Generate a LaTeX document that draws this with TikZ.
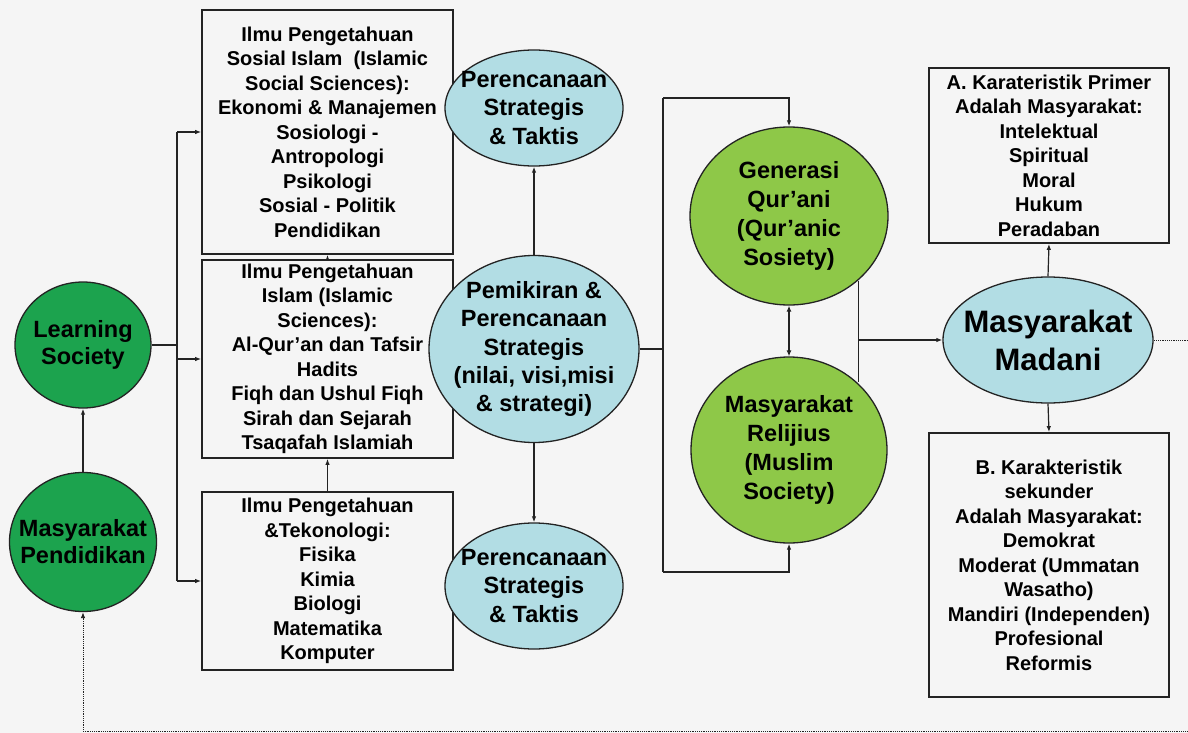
\documentclass[tikz,border=0pt]{standalone}
\usepackage{fontspec}
\setmainfont{Liberation Sans}
\usepackage{xcolor}
\usetikzlibrary{shapes.geometric,arrows.meta}
\definecolor{bggray}{RGB}{245,245,245}
\definecolor{darkgreen}{RGB}{28,163,78}
\definecolor{lightgreen}{RGB}{142,200,72}
\definecolor{lightblue}{RGB}{178,221,228}
\definecolor{linegray}{RGB}{35,35,35}

\begin{document}
\begin{tikzpicture}[x=1pt,y=-1pt,
  box/.style={draw=linegray, line width=1.7pt, minimum width=#1, inner sep=0pt},
  blob/.style={ellipse, draw=linegray, line width=1.3pt, inner sep=0pt},
  txt/.style={align=center, font=\fontsize{20}{24.5}\selectfont\bfseries},
  etxt/.style={align=center, font=\fontsize{23.5}{28.3}\selectfont\bfseries},
  arr/.style={-{Latex[length=6pt,width=4.5pt]}, line width=1.2pt, linegray},
  arr2/.style={{Latex[length=6pt,width=5pt]}-{Latex[length=6pt,width=5pt]}, line width=1.8pt, linegray},
  link/.style={line width=1.2pt, linegray}]

% Background
\useasboundingbox (0,0) rectangle (1188,733);
\fill[bggray] (0,0) rectangle (1188,733);

% Left circles
\node[blob, fill=darkgreen, minimum width=136, minimum height=126] (ls) at (83,345) {};
\node[etxt, font=\fontsize{23.5}{27}\selectfont\bfseries] (lst) at (ls) {Learning\\Society};
\node[blob, fill=darkgreen, minimum width=147, minimum height=139] (mp) at (83,542) {};
\node[etxt, font=\fontsize{23.5}{27}\selectfont\bfseries] (mpt) at (mp) {Masyarakat\\Pendidikan};

% Knowledge boxes
\node[box=251, minimum height=244, txt] (b1) at (327.5,132) {Ilmu Pengetahuan\\Sosial Islam\ \ (Islamic\\Social Sciences):\\Ekonomi \& Manajemen\\Sosiologi -\\Antropologi\\Psikologi\\Sosial - Politik\\Pendidikan};
\node[box=251, minimum height=198, txt] (b2) at (327.5,359) {Ilmu Pengetahuan\\Islam (Islamic\\Sciences):\\Al-Qur'an dan Tafsir\\Hadits\\Fiqh dan Ushul Fiqh\\Sirah dan Sejarah\\Tsaqafah Islamiah};
\node[box=251, minimum height=178, txt] (b3) at (327.5,581) {Ilmu Pengetahuan\\\&Tekonologi:\\Fisika\\Kimia\\Biologi\\Matematika\\Komputer};

% Planning ellipses
\node[blob, fill=lightblue, minimum width=178, minimum height=116] (ps1) at (534,108) {};
\node[etxt] (ps1t) at (ps1) {Perencanaan\\Strategis\\\& Taktis};
\node[blob, fill=lightblue, minimum width=210, minimum height=187] (pem) at (534,349) {};
\node[etxt] (pemt) at (pem) {Pemikiran \&\\Perencanaan\\Strategis\\(nilai, visi,misi\\\& strategi)};
\node[blob, fill=lightblue, minimum width=178, minimum height=126] (ps2) at (534,586) {};
\node[etxt] (ps2t) at (ps2) {Perencanaan\\Strategis\\\& Taktis};

% Society ellipses
\node[blob, fill=lightgreen, minimum width=198, minimum height=178] (gen) at (789,216) {};
\node[etxt, font=\fontsize{23.5}{29}\selectfont\bfseries] (gent) at (gen) {Generasi\\Qur'ani\\(Qur'anic\\Sosiety)};
\node[blob, fill=lightgreen, minimum width=196, minimum height=186] (mus) at (789,450) {};
\node[etxt, font=\fontsize{23.5}{29}\selectfont\bfseries] (must) at (mus) {Masyarakat\\Relijius\\(Muslim\\Society)};

% Madani and its characteristics
\node[blob, fill=lightblue, minimum width=210, minimum height=126] (mad) at (1048,340) {};
\node[etxt, font=\fontsize{31}{38}\selectfont\bfseries] (madt) at (mad) {Masyarakat\\Madani};
\node[box=240, minimum height=175, txt] (ka) at (1049,155.5) {A. Karateristik Primer\\Adalah Masyarakat:\\Intelektual\\Spiritual\\Moral\\Hukum\\Peradaban};
\node[box=240, minimum height=264, txt] (kb) at (1049,565) {B. Karakteristik\\sekunder\\Adalah Masyarakat:\\Demokrat\\Moderat (Ummatan\\Wasatho)\\Mandiri (Independen)\\Profesional\\Reformis};

% Bus coordinates
\coordinate (lbus) at (177,345);
\coordinate (rtop) at (663,98);
\coordinate (rbot) at (663,572);
\coordinate (dr) at (1200,731);

% Left connectors
\draw[arr] (mp.north) -- (ls.south);
\draw[link] (ls.east) -- (lbus);
\draw[link] (lbus |- b1.west) -- (lbus |- b3.west);
\foreach \b in {b1,b2,b3} {
    \draw[arr] (lbus |- \b.west) -- (\b.west);
}
\draw[arr] (b2.north) -- (b1.south);
\draw[arr] (b3.north) -- (b2.south);

% Centre connectors
\draw[arr] (pem.north) -- (ps1.south);
\draw[arr] (pem.south) -- (ps2.north);
\draw[link] (pem.east) -- (pem.east -| rtop);
\draw[link] (rtop) -- (rbot);
\draw[arr] (rtop) -| (gen.north);
\draw[arr] (rbot) -| (mus.south);
\draw[arr2] (gen.south) -- (mus.north);

% Right connectors
\draw[link] (gen.-43) -- (gen.-43 |- mus.45);
\draw[arr] (gen.-43 |- mad.west) -- (mad.west);
\draw[arr] (mad.north) -- (ka.south);
\draw[arr] (mad.south) -- (kb.north);

% Feedback loop
\draw[arr, densely dotted, line width=0.9pt] (mad.east) -| (dr) -| (mp.south);

\end{tikzpicture}
\end{document}
